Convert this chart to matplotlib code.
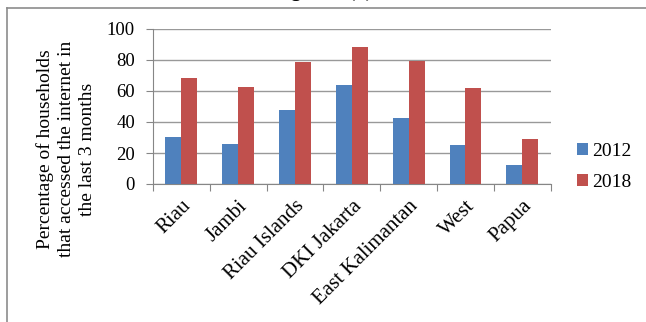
import matplotlib
matplotlib.use("Agg")
import matplotlib.pyplot as plt
import numpy as np
from matplotlib.lines import Line2D

provinces = ["Riau", "Jambi", "Riau Islands", "DKI Jakarta", "East Kalimantan", "West", "Papua"]
years = ["2012", "2018"]
share_2012 = [30.3, 25.6, 47.7, 63.7, 42.8, 25.0, 12.0]
share_2018 = [68.4, 62.4, 78.5, 88.6, 79.1, 61.7, 29.2]
y_ticks = [0, 20, 40, 60, 80, 100]

plt.rcParams["font.family"] = ["Liberation Serif", "DejaVu Serif"]

W, H = 646, 322
fig = plt.figure(figsize=(W / 100, H / 100), dpi=100)
ax = fig.add_axes([153 / W, 1 - 184 / H, (550.7 - 153) / W, (184 - 29) / H])

x = np.arange(len(provinces))
w = 0.28
ax.bar(x - w / 2, share_2012, width=w, color="#4f81bd", label=years[0], zorder=3)
ax.bar(x + w / 2, share_2018, width=w, color="#c0504d", label=years[1], zorder=3)

ax.set_xlim(-0.5, len(provinces) - 0.5)
ax.set_ylim(0, 100)
ax.set_yticks(y_ticks)
ax.tick_params(axis="y", labelsize=13.5, length=5, color="#868686", pad=8)
ax.yaxis.grid(True, color="#999999", linewidth=1.0, zorder=0)

ax.set_xticks(np.arange(len(provinces) + 1) - 0.5)
ax.set_xticklabels([])
ax.set_xticks(x, minor=True)
ax.set_xticklabels(provinces, minor=True, rotation=45, ha="right",
                   rotation_mode="anchor", fontsize=15)
ax.tick_params(axis="x", which="major", length=5, color="#868686")
ax.tick_params(axis="x", which="minor", length=0, pad=9)

for side in ("top", "right"):
    ax.spines[side].set_visible(False)
for side in ("left", "bottom"):
    ax.spines[side].set_color("#868686")

fig.text(66 / W, 1 - 149 / H,
         "Percentage of households\nthat accessed the internet in\nthe last 3 months",
         rotation=90, ha="center", va="center", multialignment="center",
         fontsize=14, linespacing=1.3)

ax.legend(loc="center left", bbox_to_anchor=(1.065, 0.11), frameon=False,
          fontsize=14, handlelength=0.57, handleheight=0.57, handletextpad=0.25,
          labelspacing=0.75, borderaxespad=0, borderpad=0)

# outer frame around the chart area
fig.add_artist(Line2D([7 / W, 7 / W], [0, 1 - 8 / H], color="#8c8c8c", lw=1.2))
fig.add_artist(Line2D([7 / W, 1], [1 - 8 / H, 1 - 8 / H], color="#8c8c8c", lw=1.2))

fig.text(0.5, 1 + 3.5 / H, "Figure 2 (b)", ha="center", va="baseline",
         fontsize=14, fontweight="bold")

fig.savefig("out.png", dpi=100)
